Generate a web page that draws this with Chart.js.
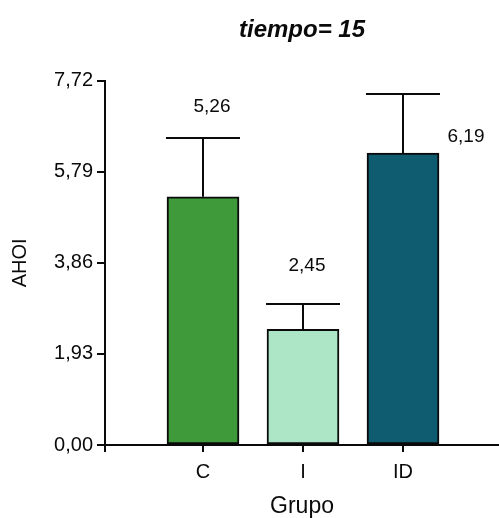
<!DOCTYPE html>
<html>
<head>
<meta charset="utf-8">
<script src="https://cdn.jsdelivr.net/npm/chart.js@4/dist/chart.umd.min.js"></script>
<style>
  html, body { margin: 0; padding: 0; background: #ffffff; }
  #wrap { width: 499px; height: 518px; }
</style>
</head>
<body>
<div id="wrap"><canvas id="chart" width="499" height="518"></canvas></div>
<script>
// Groups and their mean AHOI at tiempo = 15
const groups = ['C', 'I', 'ID'];
const groupPos = [1, 2, 3];
const means = [5.26, 2.45, 6.19];
// Upper error (SEM) above each mean
const errors = [1.25, 0.54, 1.25];
const barColors = ['#3f9a3a', '#ace6c6', '#0f5b70'];
// Y axis tick values
const yTicks = [0.00, 1.93, 3.86, 5.79, 7.72];
// Where each value label sits, in axis units
const labelX = [1.09, 2.04, 3.63];
const labelY = [7.17, 3.80, 6.53];

const FONT = "'Liberation Sans', Arial, Helvetica, sans-serif";
const INK = '#0a0a0a';
const fmt = v => v.toFixed(2).replace('.', ',');

// Upper error bars with caps as wide as the bar
const errorBars = {
  id: 'errorBars',
  afterDatasetsDraw(chart) {
    const meta = chart.getDatasetMeta(0);
    const y = chart.scales.y;
    const ctx = chart.ctx;
    ctx.save();
    ctx.strokeStyle = INK;
    ctx.lineWidth = 2;
    meta.data.forEach((bar, i) => {
      const top = y.getPixelForValue(means[i] + errors[i]);
      const half = bar.width / 2 + 1;
      ctx.beginPath();
      ctx.moveTo(bar.x, bar.y);
      ctx.lineTo(bar.x, top);
      ctx.moveTo(bar.x - half, top);
      ctx.lineTo(bar.x + half, top);
      ctx.stroke();
    });
    ctx.restore();
  }
};

// Mean value written near each bar
const valueLabels = {
  id: 'valueLabels',
  afterDatasetsDraw(chart) {
    const { x, y } = chart.scales;
    const ctx = chart.ctx;
    ctx.save();
    ctx.fillStyle = INK;
    ctx.font = '19px ' + FONT;
    ctx.textAlign = 'center';
    ctx.textBaseline = 'middle';
    means.forEach((m, i) => {
      ctx.fillText(fmt(m), x.getPixelForValue(labelX[i]), y.getPixelForValue(labelY[i]));
    });
    ctx.restore();
  }
};

new Chart(document.getElementById('chart'), {
  type: 'bar',
  data: {
    datasets: [{
      data: groupPos.map((p, i) => ({ x: p, y: means[i] })),
      backgroundColor: barColors,
      borderColor: INK,
      borderWidth: 2,
      borderSkipped: false,
      barThickness: 72
    }]
  },
  options: {
    responsive: false,
    animation: false,
    layout: { padding: { left: 0, right: 0, top: 0, bottom: 0 } },
    plugins: {
      legend: { display: false },
      tooltip: { enabled: false },
      title: {
        display: true,
        fullSize: false,
        text: 'tiempo= 15',
        color: INK,
        font: { family: FONT, size: 24, weight: 'bold', style: 'italic', lineHeight: 1.2 },
        padding: { top: 16, bottom: 36 }
      }
    },
    scales: {
      x: {
        type: 'linear',
        min: 0.02,
        max: 3.96,
        offset: false,
        afterBuildTicks(scale) {
          scale.ticks = [{ value: 0.02 }].concat(groupPos.map(v => ({ value: v })));
        },
        afterFit(scale) { scale.height = 73; },
        ticks: {
          color: INK,
          font: { family: FONT, size: 20 },
          padding: 8,
          maxRotation: 0,
          autoSkip: false,
          callback: v => { const k = groupPos.indexOf(v); return k >= 0 ? groups[k] : ''; }
        },
        grid: { offset: false, drawOnChartArea: false, drawTicks: true, tickLength: 7, color: INK, lineWidth: 2 },
        border: { display: true, color: INK, width: 2 },
        title: {
          display: true,
          text: 'Grupo',
          color: INK,
          font: { family: FONT, size: 23, lineHeight: 1 },
          padding: { top: 0, bottom: 0 }
        }
      },
      y: {
        min: 0,
        max: 7.72,
        afterBuildTicks(scale) { scale.ticks = yTicks.map(v => ({ value: v })); },
        afterFit(scale) { scale.width = 105; },
        ticks: {
          color: INK,
          font: { family: FONT, size: 20 },
          padding: 4,
          callback: v => fmt(v)
        },
        grid: { drawOnChartArea: false, drawTicks: true, tickLength: 8, color: INK, lineWidth: 2 },
        border: { display: true, color: INK, width: 2 },
        title: {
          display: true,
          text: 'AHOI',
          color: INK,
          font: { family: FONT, size: 20 },
          padding: { top: 8, bottom: 0 }
        }
      }
    }
  },
  plugins: [errorBars, valueLabels]
});
</script>
</body>
</html>
